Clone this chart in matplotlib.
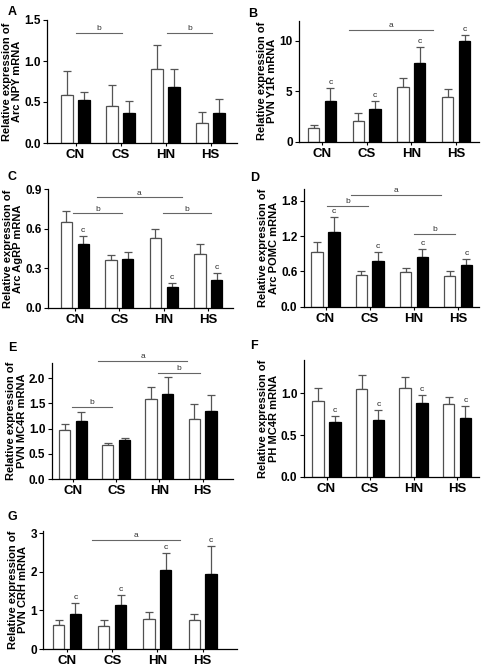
import matplotlib
matplotlib.use("Agg")
import matplotlib.pyplot as plt

plt.rcParams['font.family'] = ['Liberation Sans', 'DejaVu Sans']

groups = ["CN", "CS", "HN", "HS"]

# ---- data (mean, error) ----
A_white = [0.58, 0.45, 0.90, 0.24]
A_white_err = [0.30, 0.26, 0.30, 0.14]
A_black = [0.52, 0.37, 0.68, 0.36]
A_black_err = [0.10, 0.14, 0.22, 0.18]

B_white = [1.4, 2.1, 5.4, 4.4]
B_white_err = [0.3, 0.7, 0.9, 0.8]
B_black = [4.0, 3.2, 7.8, 10.0]
B_black_err = [1.3, 0.8, 1.6, 0.6]

C_white = [0.65, 0.36, 0.53, 0.41]
C_white_err = [0.08, 0.04, 0.07, 0.07]
C_black = [0.48, 0.37, 0.16, 0.21]
C_black_err = [0.06, 0.05, 0.03, 0.05]

D_white = [0.93, 0.54, 0.585, 0.53]
D_white_err = [0.17, 0.07, 0.065, 0.07]
D_black = [1.27, 0.78, 0.85, 0.705]
D_black_err = [0.25, 0.15, 0.13, 0.10]

E_white = [0.97, 0.67, 1.58, 1.18]
E_white_err = [0.13, 0.05, 0.25, 0.31]
E_black = [1.15, 0.77, 1.69, 1.34]
E_black_err = [0.17, 0.05, 0.34, 0.32]

F_white = [0.91, 1.05, 1.07, 0.87]
F_white_err = [0.15, 0.17, 0.13, 0.09]
F_black = [0.66, 0.68, 0.89, 0.71]
F_black_err = [0.07, 0.12, 0.09, 0.14]

G_white = [0.63, 0.60, 0.78, 0.74]
G_white_err = [0.12, 0.16, 0.17, 0.18]
G_black = [0.92, 1.13, 2.04, 1.95]
G_black_err = [0.27, 0.28, 0.45, 0.73]

# significance 'c' flags on black bars
A_c = [False, False, False, False]
B_c = [True, True, True, True]
C_c = [True, False, True, True]
D_c = [True, True, True, True]
E_c = [False, False, False, False]
F_c = [True, True, True, True]
G_c = [True, True, True, True]

# bracket lines: (label, x_start, x_end, y)
A_lines = [("b", 0.0, 1.03, 1.34), ("b", 2.03, 3.04, 1.34)]
B_lines = [("a", 0.61, 2.48, 11.06)]
C_lines = [("a", 0.49, 2.40, 0.837), ("b", -0.03, 1.05, 0.716), ("b", 1.98, 3.06, 0.716)]
D_lines = [("b", 0.03, 0.96, 1.716), ("a", 0.58, 2.62, 1.90), ("b", 2.01, 2.93, 1.239)]
E_lines = [("b", -0.03, 0.91, 1.43), ("a", 0.59, 2.63, 2.34), ("b", 1.97, 2.94, 2.11)]
F_lines = []
G_lines = [("a", 0.55, 2.50, 2.83)]

A_ylabel = "Relative expression of\nArc NPY mRNA"
B_ylabel = "Relative expression of\nPVN Y1R mRNA"
C_ylabel = "Relative expression of\nArc AgRP mRNA"
D_ylabel = "Relative expression of\nArc POMC mRNA"
E_ylabel = "Relative expression of\nPVN MC4R mRNA"
F_ylabel = "Relative expression of\nPH MC4R mRNA"
G_ylabel = "Relative expression of\nPVN CRH mRNA"

A_yticks = [0.0, 0.5, 1.0, 1.5]
B_yticks = [0, 5, 10]
C_yticks = [0.0, 0.3, 0.6, 0.9]
D_yticks = [0.0, 0.6, 1.2, 1.8]
E_yticks = [0.0, 0.5, 1.0, 1.5, 2.0]
F_yticks = [0.0, 0.5, 1.0]
G_yticks = [0, 1, 2, 3]

A_yfmt = "{:.1f}"
B_yfmt = "{:.0f}"
C_yfmt = "{:.1f}"
D_yfmt = "{:.1f}"
E_yfmt = "{:.1f}"
F_yfmt = "{:.1f}"
G_yfmt = "{:.0f}"

W, H = 484, 666
fig = plt.figure(figsize=(W / 100, H / 100), dpi=100)

# layout: (letter, pixel box x0,x1,y0,y1, group center px, spacing px, ymax, letter pos)
panels = [
    ("A", (47, 237, 20, 143), 75.5, 45.0, 1.5, (8, 12),
     A_white, A_white_err, A_black, A_black_err, A_c, A_lines, A_ylabel, A_yticks, A_yfmt),
    ("B", (299, 479, 20.7, 141.7), 322, 44.7, 12.0, (248, 14),
     B_white, B_white_err, B_black, B_black_err, B_c, B_lines, B_ylabel, B_yticks, B_yfmt),
    ("C", (48, 233, 189, 307.7), 74.8, 44.5, 0.9, (8, 177),
     C_white, C_white_err, C_black, C_black_err, C_c, C_lines, C_ylabel, C_yticks, C_yfmt),
    ("D", (303.7, 478.7, 189, 306.7), 325.5, 44.2, 2.0, (250, 178),
     D_white, D_white_err, D_black, D_black_err, D_c, D_lines, D_ylabel, D_yticks, D_yfmt),
    ("E", (51.7, 233, 363, 479), 73, 43.2, 2.3, (8, 348),
     E_white, E_white_err, E_black, E_black_err, E_c, E_lines, E_ylabel, E_yticks, E_yfmt),
    ("F", (303.7, 478.7, 360, 476.7), 326.5, 43.5, 1.4, (250, 346),
     F_white, F_white_err, F_black, F_black_err, F_c, F_lines, F_ylabel, F_yticks, F_yfmt),
    ("G", (43.3, 236.7, 530.7, 649), 67, 45.2, 3.07, (8, 517),
     G_white, G_white_err, G_black, G_black_err, G_c, G_lines, G_ylabel, G_yticks, G_yfmt),
]

errc = "#555555"
for (letter, (x0, x1, y0, y1), c0, s, ymax, (lx, ly),
     wv, we, bv, be, cflags, lines, ylab, yt, yfmt) in panels:
    ax = fig.add_axes([x0 / W, 1 - y1 / H, (x1 - x0) / W, (y1 - y0) / H])
    xs = list(range(len(groups)))
    bw = 11.3 / s
    off = 8.4 / s
    xw = [x - off for x in xs]
    xb = [x + off for x in xs]
    ax.bar(xw, wv, width=bw, color="white", edgecolor="#505050", linewidth=0.9, zorder=2)
    ax.bar(xb, bv, width=bw, color="black", edgecolor="black", linewidth=0.9, zorder=2)
    ax.errorbar(xw, wv, yerr=[[0] * 4, we], fmt="none", ecolor=errc, elinewidth=0.9,
                capsize=2.6, capthick=0.9, zorder=1)
    ax.errorbar(xb, bv, yerr=[[0] * 4, be], fmt="none", ecolor=errc, elinewidth=0.9,
                capsize=2.6, capthick=0.9, zorder=1)
    for x, v, e, f in zip(xb, bv, be, cflags):
        if f:
            ax.annotate("c", (x, v + e), xytext=(0, 1.5), textcoords="offset points",
                        ha="center", va="bottom", fontsize=6, color="#222222")
    for lab, xa, xe, yv in lines:
        ax.plot([xa, xe], [yv, yv], color="#666666", lw=0.8, clip_on=False)
        ax.annotate(lab, ((xa + xe) / 2, yv), xytext=(0, 0.5), textcoords="offset points",
                    ha="center", va="bottom", fontsize=6, color="#333333",
                    annotation_clip=False)
    ax.set_xlim((x0 - c0) / s, (x1 - c0) / s)
    ax.set_ylim(0, ymax)
    ax.set_xticks(xs)
    ax.set_xticklabels(groups, fontsize=9.5, fontweight="bold")
    ax.set_yticks(yt)
    ax.set_yticklabels([yfmt.format(v) for v in yt], fontsize=8.5, fontweight="bold")
    ax.tick_params(axis="x", length=2.5, width=0.8, pad=2)
    ax.tick_params(axis="y", length=3, width=0.8, pad=1.5)
    ax.set_ylabel(ylab, fontsize=8, fontweight="bold", linespacing=1.05, labelpad=1.5)
    for sp in ["top", "right"]:
        ax.spines[sp].set_visible(False)
    for sp in ["left", "bottom"]:
        ax.spines[sp].set_linewidth(0.9)
    fig.text(lx / W, 1 - ly / H, letter, fontsize=9, fontweight="bold",
             ha="left", va="center")

fig.savefig("out.png", dpi=100)
